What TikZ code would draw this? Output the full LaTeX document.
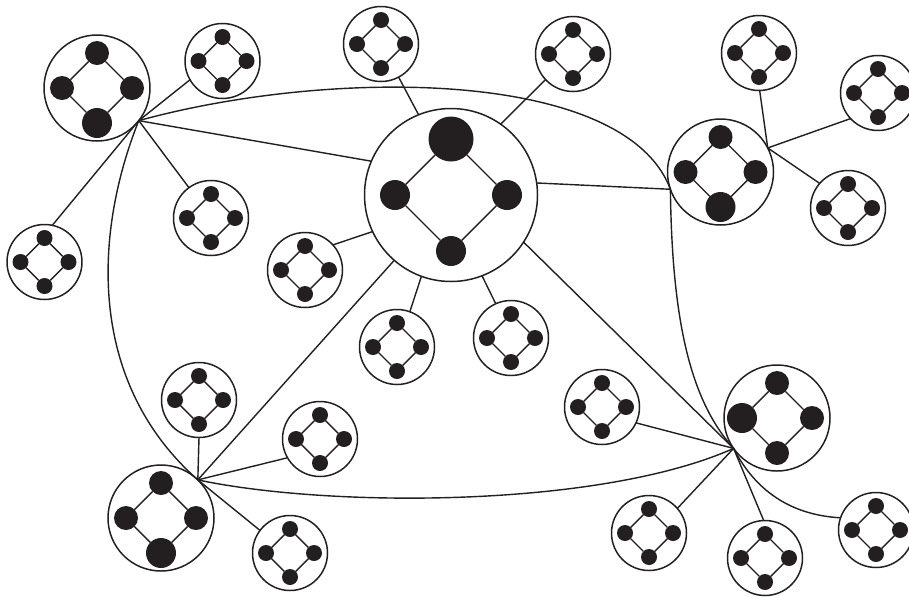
\documentclass[tikz,border=0pt]{standalone}
\usepackage{tikz}
\definecolor{ink}{RGB}{35,31,32}

% four dots on a diamond inside a ring node
\newcommand{\quadnet}[6]{%
  \path (#1) ++(0,-#2) node[dot=#3] (#1-t) {}
        (#1) ++(-#2,0) node[dot=#4] (#1-l) {}
        (#1) ++(#2,0) node[dot=#5] (#1-r) {}
        (#1) ++(0,#2) node[dot=#6] (#1-b) {};
  \draw[edge] (#1-t) -- (#1-r) -- (#1-b) -- (#1-l) -- (#1-t);
}

\begin{document}
\begin{tikzpicture}[
    x=0.02cm, y=-0.02cm,
    ring/.style={draw=ink, circle, line width=0.85pt, inner sep=0pt, outer sep=0pt, minimum size=#1*0.02cm},
    sat/.style={ring=75},
    hub/.style={ring=106},
    core/.style={ring=173},
    dot/.style={circle, fill=ink, inner sep=0pt, outer sep=0pt, minimum size=#1*0.02cm},
    edge/.style={draw=ink, line width=0.8pt},
    link/.style={draw=ink, line width=0.8pt}
]
    \useasboundingbox (0,0) rectangle (909,596);

    \foreach \n/\x/\y in {s1/222.5/61, s2/381/44, s3/573/54, s4/759/53, s5/878/93,
        s6/848/208, s7/211/218, s8/44.5/262, s9/305/270, s10/397/347, s11/511/338,
        s12/199/400, s13/320/439, s14/602/407, s15/290/553, s16/649/533,
        s17/765/558, s18/876/530} {
        \node[sat] (\n) at (\x,\y) {};
        \quadnet{\n}{24}{16}{16}{16}{16}
    }

    \node[hub] (tl) at (97,88) {};
    \quadnet{tl}{35}{24}{24}{24}{30}
    \node[core] (ctr) at (451,195) {};
    \quadnet{ctr}{56}{45}{30}{30}{30}
    \node[hub] (rh) at (720.5,172) {};
    \quadnet{rh}{35}{24}{24}{24}{30}
    \node[hub] (bl) at (161,518) {};
    \quadnet{bl}{35}{24}{24}{24}{30}
    \node[hub] (br) at (777,418) {};
    \quadnet{br}{35}{24}{30}{24}{24}

    \coordinate (p1) at (tl.-38);
    \coordinate (p3) at (rh.27);
    \coordinate (p4) at (bl.46);
    \coordinate (p5) at (br.215);
    \coordinate (q) at (rh.199);

    \draw[link] (p1) -- (s1.210);
    \draw[link] (p1) -- (s7.126);
    \draw[link] (p1) -- (s8.78);
    \draw[link] (p1) -- (ctr.157);
    \draw[link] (p1) .. controls (330,68) and (625,68) .. (q);
    \draw[link] (q) .. controls (672,320) and (690,400) .. (p5);
    \draw[link] (p1) .. controls (95,230) and (85,380) .. (p4);

    \draw[link] (ctr.112) -- (s2.-62);
    \draw[link] (ctr.55) -- (s3.223);
    \draw[link] (ctr.8) -- (q);
    \draw[link] (ctr.205) -- (s9.42);
    \draw[link] (ctr.250) -- (s10.70);
    \draw[link] (ctr.-69) -- (s11.114);
    \draw[link] (ctr.229) -- (p4);
    \draw[link] (ctr.-33) -- (p5);

    \draw[link] (p3) -- (s4.-89);
    \draw[link] (p3) -- (s5.223);
    \draw[link] (p3) -- (s6.139);

    \draw[link] (p4) -- (s12.-90);
    \draw[link] (p4) -- (s13.210);
    \draw[link] (p4) -- (s15.143);
    \draw[link] (p4) .. controls (330,508) and (600,508) .. (p5);

    \draw[link] (p5) -- (s14.-25);
    \draw[link] (p5) -- (s16.41);
    \draw[link] (p5) -- (s17.92);
    \draw[link] (p5) .. controls (755,490) and (790,515) .. (s18.161);
\end{tikzpicture}
\end{document}
